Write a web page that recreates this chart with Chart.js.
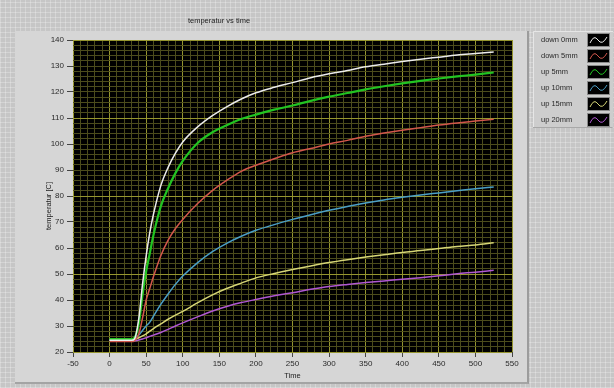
<!DOCTYPE html>
<html>
<head>
<meta charset="utf-8">
<script src="https://cdn.jsdelivr.net/npm/chart.js@4/dist/chart.umd.min.js"></script>
<style>
  html, body {
    margin: 0;
    padding: 0;
    width: 614px;
    height: 388px;
    overflow: hidden;
  }
  body {
    background-color: #c6c6c6;
    background-image:
      repeating-linear-gradient(90deg, rgba(255,255,255,0.25) 0 1px, transparent 1px 5px),
      repeating-linear-gradient(0deg, rgba(255,255,255,0.25) 0 1px, transparent 1px 5px);
  }
  #panel {
    position: absolute;
    left: 15px;
    top: 31px;
    width: 512px;
    height: 351px;
    background: #d6d6d6;
    border-right: 2px solid #9c9c9c;
    border-bottom: 2px solid #a4a4a4;
  }
  #wrap {
    position: absolute;
    left: 0;
    top: 0;
    width: 614px;
    height: 388px;
  }
</style>
</head>
<body>
<div id="panel"></div>
<div id="wrap"><canvas id="chart" width="614" height="388"></canvas></div>
<script>
// time axis (s)
const timeValues = [0, 10, 20, 30, 34, 40, 45, 50, 55, 60, 70, 80, 90, 100, 120, 140, 160, 180,
                    200, 225, 250, 275, 300, 325, 350, 375, 400, 425, 450, 475, 500, 525];

// temperatures [C]
const down0mm = [24.5, 24.5, 24.5, 24.5, 25, 33, 46, 57, 66, 73, 84, 91, 96.5, 100.8, 106.5, 110.8, 114.3, 117.3,
                 119.7, 121.8, 123.6, 125.5, 127, 128.3, 129.7, 130.7, 131.7, 132.6, 133.4, 134.2, 134.8, 135.4];
const down5mm = [24, 24, 24, 24, 24.3, 27, 33, 40, 44.5, 49, 57, 63, 67.5, 71, 77, 82, 86, 89.5,
                 91.8, 94.3, 96.6, 98.3, 100, 101.4, 103, 104.2, 105.3, 106.3, 107.3, 108.1, 108.8, 109.5];
const up5mm = [25, 25, 25, 25, 25.5, 31, 42, 51, 58, 65, 76, 83, 88.8, 93.5, 100.3, 104.4, 107.2, 109.6,
               111.3, 113.2, 114.8, 116.6, 118.2, 119.6, 121, 122.2, 123.3, 124.3, 125.2, 126, 126.7, 127.5];
const up10mm = [24.5, 24.5, 24.5, 24.5, 24.8, 26.5, 28.3, 30, 31.5, 33.8, 38.3, 42.3, 46, 49.2, 54.3, 58.5, 61.8, 64.5,
                66.8, 69, 71, 72.8, 74.5, 76, 77.3, 78.5, 79.5, 80.4, 81.2, 82, 82.8, 83.5];
const up15mm = [24.5, 24.5, 24.5, 24.5, 24.8, 25.5, 26.2, 27, 28, 29, 30.8, 32.6, 34.2, 35.6, 38.9, 41.9, 44.4, 46.5,
                48.5, 50.2, 51.7, 53.1, 54.4, 55.5, 56.5, 57.4, 58.3, 59, 59.8, 60.6, 61.2, 62];
const up20mm = [24.5, 24.5, 24.5, 24.5, 24.3, 24.6, 25, 25.5, 26, 26.5, 27.5, 28.7, 30, 31.2, 33.5, 35.7, 37.5, 39,
                40.2, 41.6, 42.8, 44.1, 45.2, 46, 46.7, 47.3, 48, 48.6, 49.3, 50.1, 50.7, 51.4];

const seriesNames = ['down 0mm', 'down 5mm', 'up 5mm', 'up 10mm', 'up 15mm', 'up 20mm'];
const seriesValues = [down0mm, down5mm, up5mm, up10mm, up15mm, up20mm];
const seriesColors = ['#ececec', '#d2574c', '#22c422', '#4b9fc6', '#d6d676', '#b058d2'];
const seriesWidths = [1.5, 1.5, 2.2, 1.5, 1.5, 1.5];

const xMin = -50, xMax = 550, xStep = 10, xLabelEvery = 50;
const yMin = 20, yMax = 140, yStep = 2, yLabelEvery = 10;

const FONT = '"Liberation Sans", Arial, sans-serif';
const majorGrid = '#95952f';
const minorGrid = '#4c4c1c';

const datasets = seriesNames.map((name, i) => ({
    label: name,
    data: timeValues.map((t, j) => ({ x: t, y: seriesValues[i][j] })),
    borderColor: seriesColors[i],
    borderWidth: seriesWidths[i],
    pointRadius: 0,
    cubicInterpolationMode: 'monotone',
    fill: false,
}));

// black plot background
const plotBackground = {
    id: 'plotBackground',
    beforeDraw(chart) {
        const { ctx, chartArea: a } = chart;
        ctx.save();
        ctx.fillStyle = '#000000';
        ctx.fillRect(a.left, a.top, a.right - a.left, a.bottom - a.top);
        ctx.restore();
    }
};

// title, axis names and the labview style legend
const labels = {
    id: 'labels',
    afterDraw(chart) {
        const { ctx, chartArea: a } = chart;
        ctx.save();
        ctx.fillStyle = '#222';
        ctx.font = '7.5px ' + FONT;
        ctx.textAlign = 'center';
        ctx.textBaseline = 'middle';
        ctx.fillText('temperatur vs time', 219, 21);
        ctx.fillText('Time', (a.left + a.right) / 2, 376);

        ctx.save();
        ctx.translate(49, 206);
        ctx.rotate(-Math.PI / 2);
        ctx.fillText('temperatur [C]', 0, 0);
        ctx.restore();

        // legend box
        const bx = 533, by = 31, bw = 80, bh = 97;
        ctx.fillStyle = '#cdcdcd';
        ctx.fillRect(bx, by, bw, bh);
        ctx.strokeStyle = '#e6e6e6';
        ctx.lineWidth = 1;
        ctx.beginPath();
        ctx.moveTo(bx + 0.5, by + bh);
        ctx.lineTo(bx + 0.5, by + 0.5);
        ctx.lineTo(bx + bw, by + 0.5);
        ctx.stroke();
        ctx.strokeStyle = '#a8a8a8';
        ctx.beginPath();
        ctx.moveTo(bx, by + bh - 0.5);
        ctx.lineTo(bx + bw - 0.5, by + bh - 0.5);
        ctx.stroke();

        chart.data.datasets.forEach((ds, i) => {
            const cy = 40 + i * 16;
            ctx.fillStyle = '#2a2a2a';
            ctx.textAlign = 'left';
            ctx.fillText(ds.label, 541, cy);
            // swatch
            ctx.fillStyle = '#000';
            ctx.fillRect(588, cy - 6, 21, 12);
            ctx.strokeStyle = '#8a8a8a';
            ctx.strokeRect(587.5, cy - 6.5, 22, 13);
            ctx.strokeStyle = ds.borderColor;
            ctx.lineWidth = 1;
            ctx.beginPath();
            ctx.moveTo(590, cy + 3);
            ctx.quadraticCurveTo(594, cy - 6, 598, cy);
            ctx.quadraticCurveTo(602, cy + 6, 607, cy - 3);
            ctx.stroke();
        });
        ctx.restore();
    }
};

new Chart(document.getElementById('chart'), {
    type: 'line',
    data: { datasets },
    options: {
        responsive: false,
        animation: false,
        layout: { padding: { left: 0, right: 102, top: 40, bottom: 0 } },
        plugins: {
            legend: { display: false },
            title: { display: false },
            tooltip: { enabled: false },
        },
        scales: {
            x: {
                type: 'linear',
                min: xMin,
                max: xMax,
                afterFit(scale) { scale.height = 36; },
                border: { display: false },
                grid: {
                    color: (c) => Math.round(c.tick.value) % xLabelEvery === 0 ? majorGrid : minorGrid,
                    tickColor: (c) => Math.round(c.tick.value) % xLabelEvery === 0 ? '#444' : 'rgba(0,0,0,0)',
                    tickLength: 5,
                    lineWidth: 1,
                },
                ticks: {
                    stepSize: xStep,
                    autoSkip: false,
                    maxRotation: 0,
                    padding: 2,
                    color: '#2a2a2a',
                    font: { family: FONT, size: 8 },
                    callback: (v) => Math.round(v) % xLabelEvery === 0 ? String(Math.round(v)) : '',
                },
            },
            y: {
                min: yMin,
                max: yMax,
                afterFit(scale) { scale.width = 73; },
                border: { display: false },
                grid: {
                    color: (c) => (Math.round(c.tick.value) - yMin) % 30 === 0 ? majorGrid : minorGrid,
                    tickColor: (c) => Math.round(c.tick.value) % yLabelEvery === 0 ? '#444' : 'rgba(0,0,0,0)',
                    tickLength: 6,
                    lineWidth: 1,
                },
                ticks: {
                    stepSize: yStep,
                    autoSkip: false,
                    padding: 3,
                    color: '#2a2a2a',
                    font: { family: FONT, size: 8 },
                    callback: (v) => Math.round(v) % yLabelEvery === 0 ? String(Math.round(v)) : '',
                },
            },
        },
    },
    plugins: [plotBackground, labels],
});
</script>
</body>
</html>
